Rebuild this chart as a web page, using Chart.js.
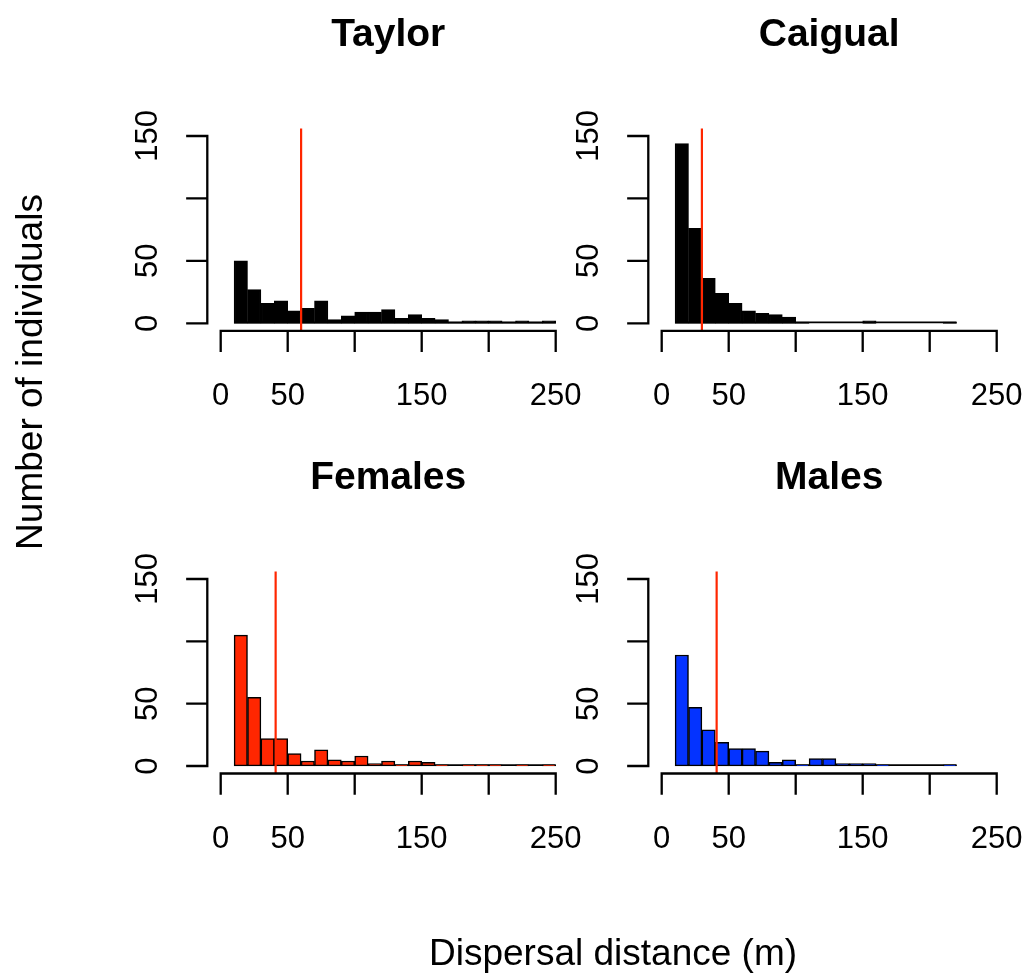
<!DOCTYPE html>
<html><head><meta charset="utf-8">
<script src="https://cdn.jsdelivr.net/npm/chart.js@4.4.1/dist/chart.umd.min.js"></script>
<style>
html,body{margin:0;padding:0;background:#fff;}
#wrap{position:relative;width:1027px;height:975px;background:#fff;}
canvas{position:absolute;left:0;top:0;}
</style></head><body>
<div id="wrap">
<canvas id="c0" width="1027" height="975"></canvas>
<canvas id="c1" width="1027" height="975"></canvas>
<canvas id="c2" width="1027" height="975"></canvas>
<canvas id="c3" width="1027" height="975"></canvas>
</div>
<script>
// ---- data ----
const binStart = 10;
const binWidth = 10;
const xTicks = [0, 50, 100, 150, 200, 250];
const xTickLabels = ['0', '50', '', '150', '', '250'];
const yTicks = [0, 50, 100, 150];
const yTickLabels = ['0', '50', '', '150'];
const panelTitles = ['Taylor', 'Caigual', 'Females', 'Males'];
const taylorCounts  = [50, 27, 16, 18, 10, 12, 18, 3, 6, 9, 9, 11, 4, 7, 4, 3, 1, 2, 2, 2, 1, 2, 1, 2];
const caigualCounts = [144, 76, 36, 24, 16, 10, 8, 7, 5, 1, 0, 0, 0, 0, 2, 0, 0, 0, 0, 0, 1];
const femaleCounts  = [105, 55, 22, 22, 10, 4, 13, 5, 4, 8, 2, 4, 1, 4, 3, 1, 0, 1, 1, 1, 0, 1, 0, 1];
const maleCounts    = [89, 47, 29, 19, 14, 14, 12, 3, 5, 1, 6, 6, 2, 2, 2, 1, 0, 0, 0, 0, 1];
const meanLines = [60, 30, 41, 41];
const xLabel = 'Dispersal distance (m)';
const yLabel = 'Number of individuals';

// ---- layout / style ----
const W = 1027, H = 975;
const FONT = '"Liberation Sans", Arial, Helvetica, sans-serif';
const RED = '#ff2600';
const areas = [
  {left:207.3, right:569.1, top:128.5, bottom:330.8},
  {left:648.3, right:1010.1, top:128.5, bottom:330.8},
  {left:207.3, right:569.1, top:571.5, bottom:773.5},
  {left:648.3, right:1010.1, top:571.5, bottom:773.5}
];
const fills = ['#000000', '#000000', RED, '#0433ff'];
const countsList = [taylorCounts, caigualCounts, femaleCounts, maleCounts];

const histAxes = {
  id: 'histAxes',
  beforeDatasetsDraw(chart, args, opts) {
    const {ctx, scales:{x, y}} = chart;
    const n = chart.data.datasets[0].data.length;
    const x0 = x.getPixelForValue(binStart);
    const x1 = x.getPixelForValue(binStart + n * binWidth);
    const yb = y.getPixelForValue(0);
    ctx.save();
    ctx.strokeStyle = '#000';
    ctx.lineWidth = 1.8;
    ctx.beginPath(); ctx.moveTo(x0, yb - 0.9); ctx.lineTo(x1, yb - 0.9); ctx.stroke();
    ctx.restore();
  },
  afterDatasetsDraw(chart, args, opts) {
    const {ctx, chartArea:a, scales:{x, y}} = chart;
    ctx.save();
    // mean line
    const mx = x.getPixelForValue(opts.mean);
    ctx.strokeStyle = RED; ctx.lineWidth = 2.2;
    ctx.beginPath(); ctx.moveTo(mx, a.top); ctx.lineTo(mx, a.bottom); ctx.stroke();
    // x axis
    ctx.strokeStyle = '#000'; ctx.lineWidth = 2.3; ctx.lineCap = 'square';
    ctx.beginPath();
    ctx.moveTo(x.getPixelForValue(xTicks[0]), a.bottom);
    ctx.lineTo(x.getPixelForValue(xTicks[xTicks.length-1]), a.bottom);
    xTicks.forEach(v => { const px = x.getPixelForValue(v); ctx.moveTo(px, a.bottom); ctx.lineTo(px, a.bottom + 20); });
    // y axis
    ctx.moveTo(a.left, y.getPixelForValue(yTicks[0]));
    ctx.lineTo(a.left, y.getPixelForValue(yTicks[yTicks.length-1]));
    yTicks.forEach(v => { const py = y.getPixelForValue(v); ctx.moveTo(a.left, py); ctx.lineTo(a.left - 20, py); });
    ctx.stroke();
    // tick labels
    ctx.fillStyle = '#000';
    ctx.font = '31px ' + FONT;
    ctx.textAlign = 'center'; ctx.textBaseline = 'alphabetic';
    xTicks.forEach((v, i) => { if (xTickLabels[i]) ctx.fillText(xTickLabels[i], x.getPixelForValue(v), a.bottom + 74); });
    yTicks.forEach((v, i) => {
      if (!yTickLabels[i]) return;
      ctx.save();
      ctx.translate(a.left - 50, y.getPixelForValue(v));
      ctx.rotate(-Math.PI / 2);
      ctx.fillText(yTickLabels[i], 0, 0);
      ctx.restore();
    });
    // title
    ctx.font = 'bold 39px ' + FONT;
    ctx.fillText(opts.title, (a.left + a.right) / 2, a.top - 83);
    if (opts.outer) {
      ctx.font = '37px ' + FONT;
      ctx.fillText(xLabel, 613, 965);
      ctx.save();
      ctx.translate(42, 372);
      ctx.rotate(-Math.PI / 2);
      ctx.fillText(yLabel, 0, 0);
      ctx.restore();
    }
    ctx.restore();
  }
};

countsList.forEach((counts, i) => {
  const a = areas[i];
  const data = counts.map((c, k) => ({x: binStart + binWidth * k + binWidth / 2, y: c}));
  new Chart(document.getElementById('c' + i), {
    type: 'bar',
    data: {datasets: [{
      data,
      backgroundColor: fills[i],
      borderColor: '#000',
      borderWidth: 1.5,
      borderSkipped: false,
      barPercentage: 1,
      categoryPercentage: 1
    }]},
    options: {
      responsive: false,
      animation: false,
      devicePixelRatio: 1,
      events: [],
      layout: {padding: {left: a.left, top: a.top, right: W - a.right, bottom: H - a.bottom}},
      plugins: {
        legend: {display: false},
        tooltip: {enabled: false},
        histAxes: {mean: meanLines[i], title: panelTitles[i], outer: i === 0}
      },
      scales: {
        x: {type: 'linear', min: -10, max: 260, offset: false, display: false,
            afterBuildTicks: s => { s.ticks = xTicks.map(v => ({value: v})); }},
        y: {type: 'linear', min: -6, max: 156, display: false,
            afterBuildTicks: s => { s.ticks = yTicks.map(v => ({value: v})); }}
      }
    },
    plugins: [histAxes]
  });
});
</script>
</body></html>
